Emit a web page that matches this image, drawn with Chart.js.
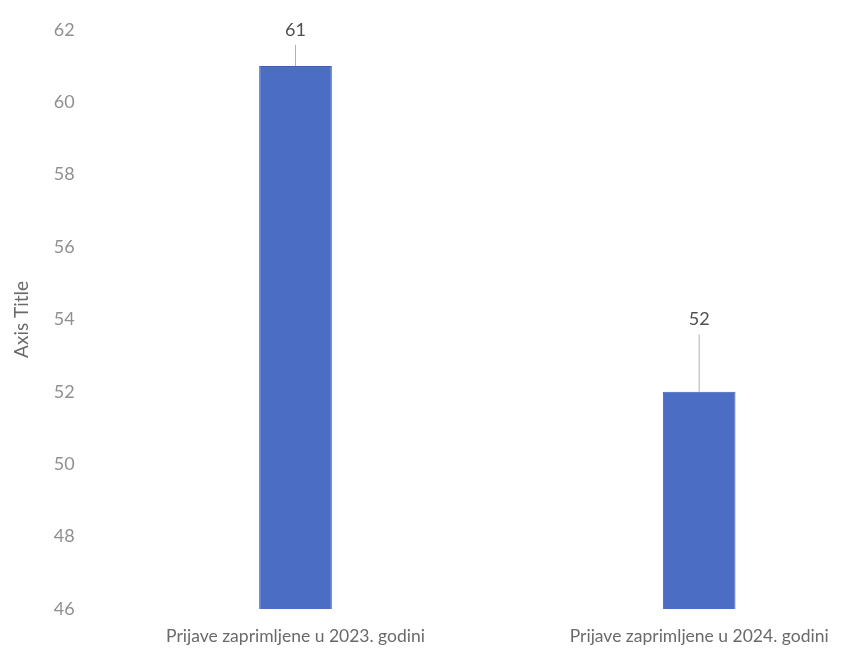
<!DOCTYPE html>
<html>
<head>
<meta charset="utf-8">
<script src="https://cdn.jsdelivr.net/npm/chart.js@4.4.1/dist/chart.umd.min.js"></script>
<style>
  html, body { margin: 0; padding: 0; background: #fff; overflow: hidden; }
  #wrap { width: 901px; height: 659px; }
</style>
</head>
<body>
<div id="wrap"><canvas id="prijaveChart"></canvas></div>
<script>
const categories = ['Prijave zaprimljene u 2023. godini', 'Prijave zaprimljene u 2024. godini'];
const values = [61, 52];
// how far above the bar (in axis units) each callout label sits
const calloutRise = [1, 2];
const yMin = 46;
const yMax = 62;
const yStep = 2;

const calloutPlugin = {
    id: 'callouts',
    afterDatasetsDraw(chart) {
        const ctx = chart.ctx;
        const y = chart.scales.y;
        chart.getDatasetMeta(0).data.forEach((bar, i) => {
            const labelY = y.getPixelForValue(values[i] + calloutRise[i]);
            ctx.save();
            ctx.strokeStyle = '#b0b0b0';
            ctx.lineWidth = 1;
            ctx.beginPath();
            ctx.moveTo(bar.x, bar.y);
            ctx.lineTo(bar.x, labelY + 15);
            ctx.stroke();
            ctx.fillStyle = '#505050';
            ctx.font = '18px Lato';
            ctx.textAlign = 'center';
            ctx.textBaseline = 'middle';
            ctx.fillText(String(values[i]), bar.x, labelY);
            ctx.restore();
        });
    }
};

const ctx = document.getElementById('prijaveChart').getContext('2d');
const prijaveChart = new Chart(ctx, {
    type: 'bar',
    data: {
        labels: categories,
        datasets: [
            {
                label: 'Prijave',
                data: values,
                backgroundColor: '#4b6dc4',
                borderColor: '#3f5fb0',
                borderWidth: 1,
                categoryPercentage: 0.8,
                barPercentage: 0.225
            }
        ]
    },
    options: {
        responsive: true,
        maintainAspectRatio: false,
        animation: false,
        layout: {
            padding: { top: 18, left: 10, right: 0, bottom: 0 }
        },
        plugins: {
            legend: { display: false },
            tooltip: { enabled: false }
        },
        scales: {
            x: {
                grid: { display: false, drawTicks: false },
                border: { display: false },
                afterFit(scale) { scale.height = 50; },
                ticks: {
                    color: '#6a6a6a',
                    font: { family: 'Lato', size: 17.5 },
                    padding: 17,
                    maxRotation: 0
                }
            },
            y: {
                min: yMin,
                max: yMax,
                grid: { display: false, drawTicks: false },
                border: { display: false },
                ticks: {
                    stepSize: yStep,
                    color: '#909090',
                    font: { family: 'Lato', size: 18 },
                    padding: 19
                },
                title: {
                    display: true,
                    text: 'Axis Title',
                    color: '#6a6a6a',
                    font: { family: 'Lato', size: 19 },
                    padding: { top: 0, bottom: 2 }
                }
            }
        }
    },
    plugins: [calloutPlugin]
});
</script>
</body>
</html>
